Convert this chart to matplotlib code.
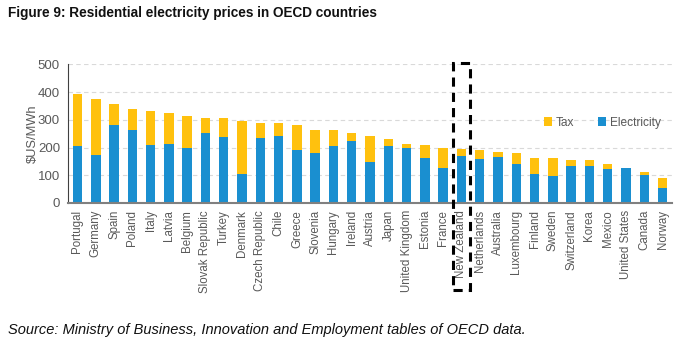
import matplotlib
matplotlib.use('Agg')
import matplotlib.pyplot as plt
import matplotlib.transforms as mtransforms
from matplotlib.patches import Rectangle

plt.rcParams['font.family'] = ['Liberation Sans', 'DejaVu Sans']

countries = ['Portugal', 'Germany', 'Spain', 'Poland', 'Italy', 'Latvia', 'Belgium',
             'Slovak Republic', 'Turkey', 'Denmark', 'Czech Republic', 'Chile', 'Greece',
             'Slovenia', 'Hungary', 'Ireland', 'Austria', 'Japan', 'United Kingdom',
             'Estonia', 'France', 'New Zealand', 'Netherlands', 'Australia', 'Luxembourg',
             'Finland', 'Sweden', 'Switzerland', 'Korea', 'Mexico', 'United States',
             'Canada', 'Norway']
electricity = [205, 173, 281, 264, 209, 213, 197, 253, 239, 106, 236, 242, 192,
               180, 206, 223, 148, 207, 200, 161, 125, 170, 158, 165, 140,
               106, 98, 133, 135, 121, 125, 101, 53]
total = [393, 374, 358, 338, 331, 325, 314, 305, 305, 296, 289, 289, 282,
         264, 264, 254, 243, 229, 211, 209, 198, 195, 191, 183, 181,
         163, 162, 156, 156, 141, 125, 111, 89]
tax = [t - e for t, e in zip(total, electricity)]

blue = '#1a8fd0'
yellow = '#ffc10e'
grey = '#595959'

fig = plt.figure(figsize=(7, 3.51), dpi=100)
ax = fig.add_axes([0.0976, 0.4217, 0.862, 0.395])

x = range(len(countries))
ax.bar(x, electricity, width=0.52, color=blue, label='Electricity', zorder=2)
ax.bar(x, tax, width=0.52, bottom=electricity, color=yellow, label='Tax', zorder=2)

ax.set_xlim(-0.5, len(countries) - 0.5)
ax.set_ylim(0, 500)
ax.set_yticks(range(0, 501, 100))
ax.yaxis.grid(True, linestyle=(0, (4, 3)), color='#d9d9d9', linewidth=0.8, zorder=0)
ax.set_xticks(list(x))
ax.set_xticklabels(countries, rotation=90, fontsize=8.3, color=grey)
ax.tick_params(axis='y', labelsize=9.5, labelcolor=grey, length=0, pad=6)
ax.tick_params(axis='x', length=0, pad=5)
ax.set_ylabel('$US/MWh', fontsize=9.3, color=grey, labelpad=-1)

for s in ['top', 'right']:
    ax.spines[s].set_visible(False)
ax.spines['left'].set_color('#404040')
ax.spines['bottom'].set_color('#808080')
ax.spines['bottom'].set_linewidth(1.5)

# highlight New Zealand
nz = countries.index('New Zealand')
trans = mtransforms.blended_transform_factory(ax.transData, ax.transAxes)
ax.add_patch(Rectangle((nz - 0.47, -0.63), 0.94, 1.64, transform=trans, fill=False,
                       edgecolor='black', linewidth=2.2, linestyle=(0, (3, 2)),
                       clip_on=False, zorder=5))

handles, labels = ax.get_legend_handles_labels()
ax.legend(handles[::-1], labels[::-1], loc='center left', bbox_to_anchor=(0.77, 0.58),
          ncol=2, frameon=False, fontsize=8.6, labelcolor=grey, handlelength=0.7,
          handleheight=0.7, handletextpad=0.3, columnspacing=2.0)

fig.text(0.011, 0.962, 'Figure 9: Residential electricity prices in OECD countries',
         fontsize=9.8, fontweight='bold', va='center', ha='left', color='#111111')
fig.text(0.011, 0.06, 'Source: Ministry of Business, Innovation and Employment tables of OECD data.',
         fontsize=10.5, style='italic', va='center', ha='left', color='#111111')

fig.savefig('out.png', dpi=100)
